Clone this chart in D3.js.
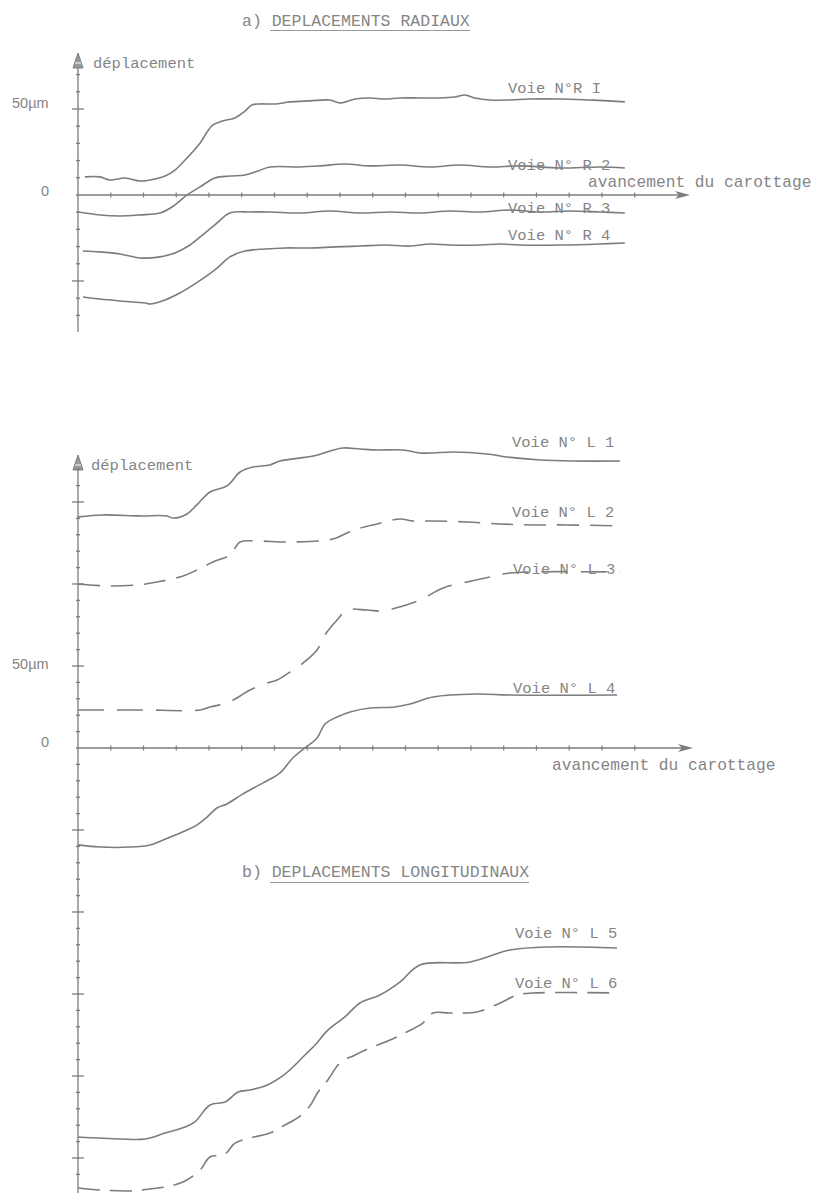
<!DOCTYPE html>
<html><head><meta charset="utf-8">
<script src="https://cdn.jsdelivr.net/npm/d3@7"></script>
<style>
html,body{margin:0;padding:0;background:#fff;}
svg{display:block;}
text{fill:#858585;}
.mono{font-family:"Liberation Mono","DejaVu Sans Mono",monospace;}
.sans{font-family:"Liberation Sans",Arial,sans-serif;}
</style></head>
<body>
<svg id="c" width="819" height="1193"></svg>
<script>
// ---------- data ([avancement (tick units), déplacement µm]) ----------
const seriesR1 = [[0.21,10.5],[0.67,10.5],[0.98,8.7],[1.44,9.9],[1.89,8.1],[2.35,9.3],[2.66,11.0],[2.96,14.5],[3.27,20.3],[3.73,30.2],[3.94,36.6],[4.12,40.7],[4.40,43.0],[4.79,44.8],[5.10,48.8],[5.31,52.3],[5.56,52.9],[6.02,52.9],[6.47,54.1],[7.08,54.7],[7.69,55.2],[8.00,53.5],[8.46,55.8],[8.92,56.4],[9.37,55.8],[9.83,56.4],[10.44,56.4],[11.05,56.4],[11.51,57.0],[11.82,58.1],[12.12,56.4],[12.58,55.2],[13.19,55.2],[13.80,55.8],[14.72,55.8],[15.63,55.2],[16.24,54.7],[16.70,54.1]];
const seriesR2 = [[0,-9.9],[0.67,-11.6],[1.28,-12.2],[1.89,-11.6],[2.50,-10.5],[2.87,-7.0],[3.33,0],[3.73,4.7],[4.18,9.9],[4.64,11.0],[5.10,11.6],[5.50,14.0],[5.86,16.3],[6.78,16.3],[7.39,16.9],[8.15,18.0],[8.92,16.9],[9.83,17.4],[10.75,16.3],[11.66,17.4],[12.58,16.3],[13.50,16.9],[14.72,15.7],[15.94,16.3],[16.70,15.7]];
const seriesR3 = [[0.15,-32.6],[0.67,-33.1],[1.28,-34.3],[1.89,-36.6],[2.50,-36.0],[2.96,-33.7],[3.42,-29.1],[3.73,-24.4],[4.18,-17.4],[4.64,-10.5],[5.25,-9.9],[5.86,-9.9],[6.78,-10.5],[7.69,-9.3],[8.61,-10.5],[9.53,-9.9],[10.44,-10.5],[11.36,-9.3],[12.27,-9.9],[13.19,-8.7],[14.11,-9.9],[15.02,-9.3],[15.94,-9.9],[16.70,-10.5]];
const seriesR4 = [[0.15,-59.3],[0.67,-60.5],[1.28,-61.6],[2.05,-62.8],[2.20,-63.4],[2.66,-61.0],[3.11,-57.0],[3.57,-51.7],[4.18,-43.6],[4.64,-36.0],[5.10,-32.6],[5.71,-31.4],[6.32,-30.8],[7.08,-30.8],[7.85,-30.2],[8.61,-29.7],[9.37,-29.1],[10.14,-29.7],[10.75,-28.5],[11.36,-29.1],[12.27,-29.1],[12.89,-28.5],[13.50,-29.1],[14.72,-29.1],[15.94,-28.5],[16.70,-27.9]];

const seriesL1 = [[0,140.9],[0.76,142.1],[1.89,141.5],[2.72,141.5],[2.90,140.2],[3.33,142.7],[3.63,148.2],[4.03,156.1],[4.55,159.8],[4.95,168.3],[5.34,171.3],[5.86,172.6],[6.17,175.0],[7.18,178.0],[7.60,180.5],[8.09,182.9],[8.61,182.3],[9.13,181.7],[9.92,181.7],[10.44,179.9],[10.84,179.9],[11.45,180.5],[12.49,179.3],[13.10,177.4],[14.11,175.6],[15.11,175.0],[16.55,175.0]];
const seriesL2 = [[0,100.0],[0.89,98.8],[1.80,99.4],[2.41,101.2],[3.21,104.9],[3.63,108.5],[4.12,113.4],[4.64,117.7],[4.95,125.6],[5.47,126.2],[6.47,125.6],[7.79,127.4],[8.21,131.1],[8.61,134.1],[9.13,136.6],[9.83,139.6],[10.23,138.4],[10.84,138.4],[11.88,137.8],[12.89,136.6],[13.89,136.0],[14.93,136.0],[16.55,135.4]];
const seriesL3 = [[0,23.2],[1.89,23.2],[3.73,23.2],[4.03,25.0],[4.55,27.4],[4.95,31.7],[5.25,35.4],[5.77,39.6],[6.08,41.5],[6.47,46.3],[6.87,51.8],[7.30,59.8],[7.54,68.9],[7.91,78.0],[8.21,84.1],[8.82,84.1],[9.31,83.5],[9.92,86.6],[10.44,90.2],[11.15,97.6],[11.88,101.2],[12.58,104.3],[13.19,106.7],[16.55,107.3]];
const seriesL4 = [[0,-59.1],[0.67,-60.4],[1.59,-60.4],[2.20,-59.1],[2.60,-56.1],[3.33,-50.0],[3.63,-47.0],[3.94,-42.1],[4.24,-36.6],[4.55,-34.1],[5.04,-28.0],[5.65,-21.3],[6.17,-15.2],[6.56,-6.1],[6.93,0],[7.30,6.1],[7.54,14.6],[7.91,18.9],[8.31,22.0],[8.92,24.4],[9.68,25.0],[10.14,26.8],[10.84,31.1],[12.18,32.9],[13.19,32.3],[16.46,32.3]];
const seriesL5 = [[0,-237.2],[1.28,-238.4],[2.05,-238.4],[2.66,-234.8],[3.27,-231.1],[3.57,-228.0],[4.03,-217.7],[4.49,-215.9],[4.89,-209.8],[5.25,-208.5],[5.71,-206.1],[6.32,-198.8],[6.93,-187.2],[7.24,-181.1],[7.63,-172.0],[8.15,-164.0],[8.61,-155.5],[9.22,-150.6],[9.83,-142.7],[10.44,-132.3],[11.97,-130.5],[13.19,-123.2],[14.41,-121.3],[16.46,-122.0]];
const seriesL6 = [[0,-268.3],[0.67,-269.5],[1.59,-270.1],[2.20,-268.9],[2.81,-267.1],[3.27,-264.0],[3.73,-257.3],[4.03,-249.4],[4.49,-247.6],[4.79,-240.9],[5.25,-237.8],[5.86,-234.8],[6.32,-229.9],[6.78,-224.4],[7.08,-218.3],[7.33,-209.8],[7.63,-202.4],[8.00,-192.1],[8.46,-187.2],[8.92,-182.9],[9.53,-178.0],[9.98,-173.8],[10.53,-167.7],[10.84,-161.6],[11.36,-161.6],[12.18,-161.0],[12.89,-155.5],[13.40,-150.6],[13.89,-149.4],[16.46,-149.4]];

const radialNames = ["Voie N°R I","Voie N° R 2","Voie N° R 3","Voie N° R 4"];
const longNames = ["Voie N° L 1","Voie N° L 2","Voie N° L 3","Voie N° L 4","Voie N° L 5","Voie N° L 6"];
const radialDash = [null,null,null,null];
const longDash = [null,"22,11","26,13",null,null,"22,10"];
const xTickValues = d3.range(1,18);
const topYTicks = d3.range(-70,80,10);
const botYTicks = d3.range(-260,180,10);
const topMajor = [50,-50];
const botMajor = [150,100,50,-50,-100,-150,-200,-250];
const titleA = "a) DEPLACEMENTS RADIAUX";
const titleB = "b) DEPLACEMENTS LONGITUDINAUX";
const yLabel = "déplacement";
const xLabel = "avancement du carottage";
const unitLabel = "50µm";
const zeroLabel = "0";

// ---------- drawing ----------
const svg = d3.select("#c");
const ink = "#7c7c7c";
const x = d3.scaleLinear().domain([0,18.75]).range([78,692]);
const yTop = d3.scaleLinear().domain([-78.5,77.3]).range([330,62]);
const yBot = d3.scaleLinear().domain([-270,177]).range([1190.8,457.7]);
const line = ys => d3.line().x(d=>x(d[0])).y(d=>ys(d[1])).curve(d3.curveCatmullRom.alpha(0.5));

function panel(ys, yTicks, major, xEnd, yTopPx, yBotPx){
  const g = svg.append("g");
  const x0 = x(0), y0 = ys(0);
  // y axis
  g.append("line").attr("x1",x0).attr("x2",x0).attr("y1",yTopPx+8).attr("y2",yBotPx)
    .attr("stroke",ink).attr("stroke-width",1.3);
  g.append("path").attr("d",`M${x0-5},${yTopPx+15} L${x0},${yTopPx} L${x0+5},${yTopPx+15} Z`)
    .attr("fill","#999").attr("stroke",ink).attr("stroke-width",1);
  g.append("line").attr("x1",x0-3).attr("x2",x0+3).attr("y1",yTopPx+10).attr("y2",yTopPx+10).attr("stroke","#fff").attr("stroke-width",1);
  g.selectAll(".yt").data(yTicks.filter(v=>v!==0)).join("line")
    .attr("x1",d=>x0-(major.includes(d)?6:2)).attr("x2",d=>x0+(major.includes(d)?6:2))
    .attr("y1",d=>ys(d)).attr("y2",d=>ys(d)).attr("stroke",ink).attr("stroke-width",1.3);
  // x axis
  g.append("line").attr("x1",x0-2).attr("x2",xEnd-8).attr("y1",y0).attr("y2",y0)
    .attr("stroke",ink).attr("stroke-width",1.5);
  g.append("path").attr("d",`M${xEnd-15},${y0-4} L${xEnd},${y0} L${xEnd-15},${y0+4} L${xEnd-11},${y0} Z`)
    .attr("fill",ink);
  g.selectAll(".xt").data(xTickValues).join("line")
    .attr("x1",d=>x(d)).attr("x2",d=>x(d)).attr("y1",y0-2.5).attr("y2",y0+2.5)
    .attr("stroke",ink).attr("stroke-width",1.2);
  return g;
}

panel(yTop, topYTicks, topMajor, 690, 53, 332);
panel(yBot, botYTicks, botMajor, 693, 455, 1193);

function curves(list, ys, dashes){
  svg.append("g").selectAll("path").data(list).join("path")
    .attr("d",(d)=>line(ys)(d)).attr("fill","none").attr("stroke",ink)
    .attr("stroke-width",1.6).attr("stroke-linejoin","round")
    .attr("stroke-dasharray",(d,i)=>dashes[i]);
}
curves([seriesR1,seriesR2,seriesR3,seriesR4], yTop, radialDash);
curves([seriesL1,seriesL2,seriesL3,seriesL4,seriesL5,seriesL6], yBot, longDash);

// texts
function txt(s, px, py, cls, size, extra){
  const t = svg.append("text").attr("x",px).attr("y",py).attr("class",cls)
    .style("font-size",size+"px").text(s);
  if(extra) extra(t);
  return t;
}
txt(titleA, 242, 26, "mono", 16.5);
svg.append("line").attr("x1",270).attr("x2",470).attr("y1",30.5).attr("y2",30.5).attr("stroke","#999").attr("stroke-width",1.2);
txt(titleB, 242, 877, "mono", 16.5);
svg.append("line").attr("x1",270).attr("x2",529).attr("y1",882.5).attr("y2",882.5).attr("stroke","#999").attr("stroke-width",1.2);

txt(yLabel, 93, 68, "mono", 15.5);
txt(yLabel, 91, 470, "mono", 15.5);
txt(xLabel, 588, 187, "mono", 16.2);
txt(xLabel, 552, 770, "mono", 16.2);
txt(unitLabel, 12, 108, "sans", 14.5);
txt(zeroLabel, 41, 196, "sans", 14.5);
txt(unitLabel, 12, 669, "sans", 14.5);
txt(zeroLabel, 41, 747, "sans", 14.5);

// series labels: anchored by the series' last point
const rLabY = [93,170,213,240];
const rLabX = [508,508,508,508];
radialNames.forEach((n,i)=>txt(n, rLabX[i], rLabY[i], "mono", 15.5));
const lLabY = [447,517,574,693,938,988];
const lLabX = [512,512,513,513,515,515];
longNames.forEach((n,i)=>txt(n, lLabX[i], lLabY[i], "mono", 15.5));
</script>
</body></html>
